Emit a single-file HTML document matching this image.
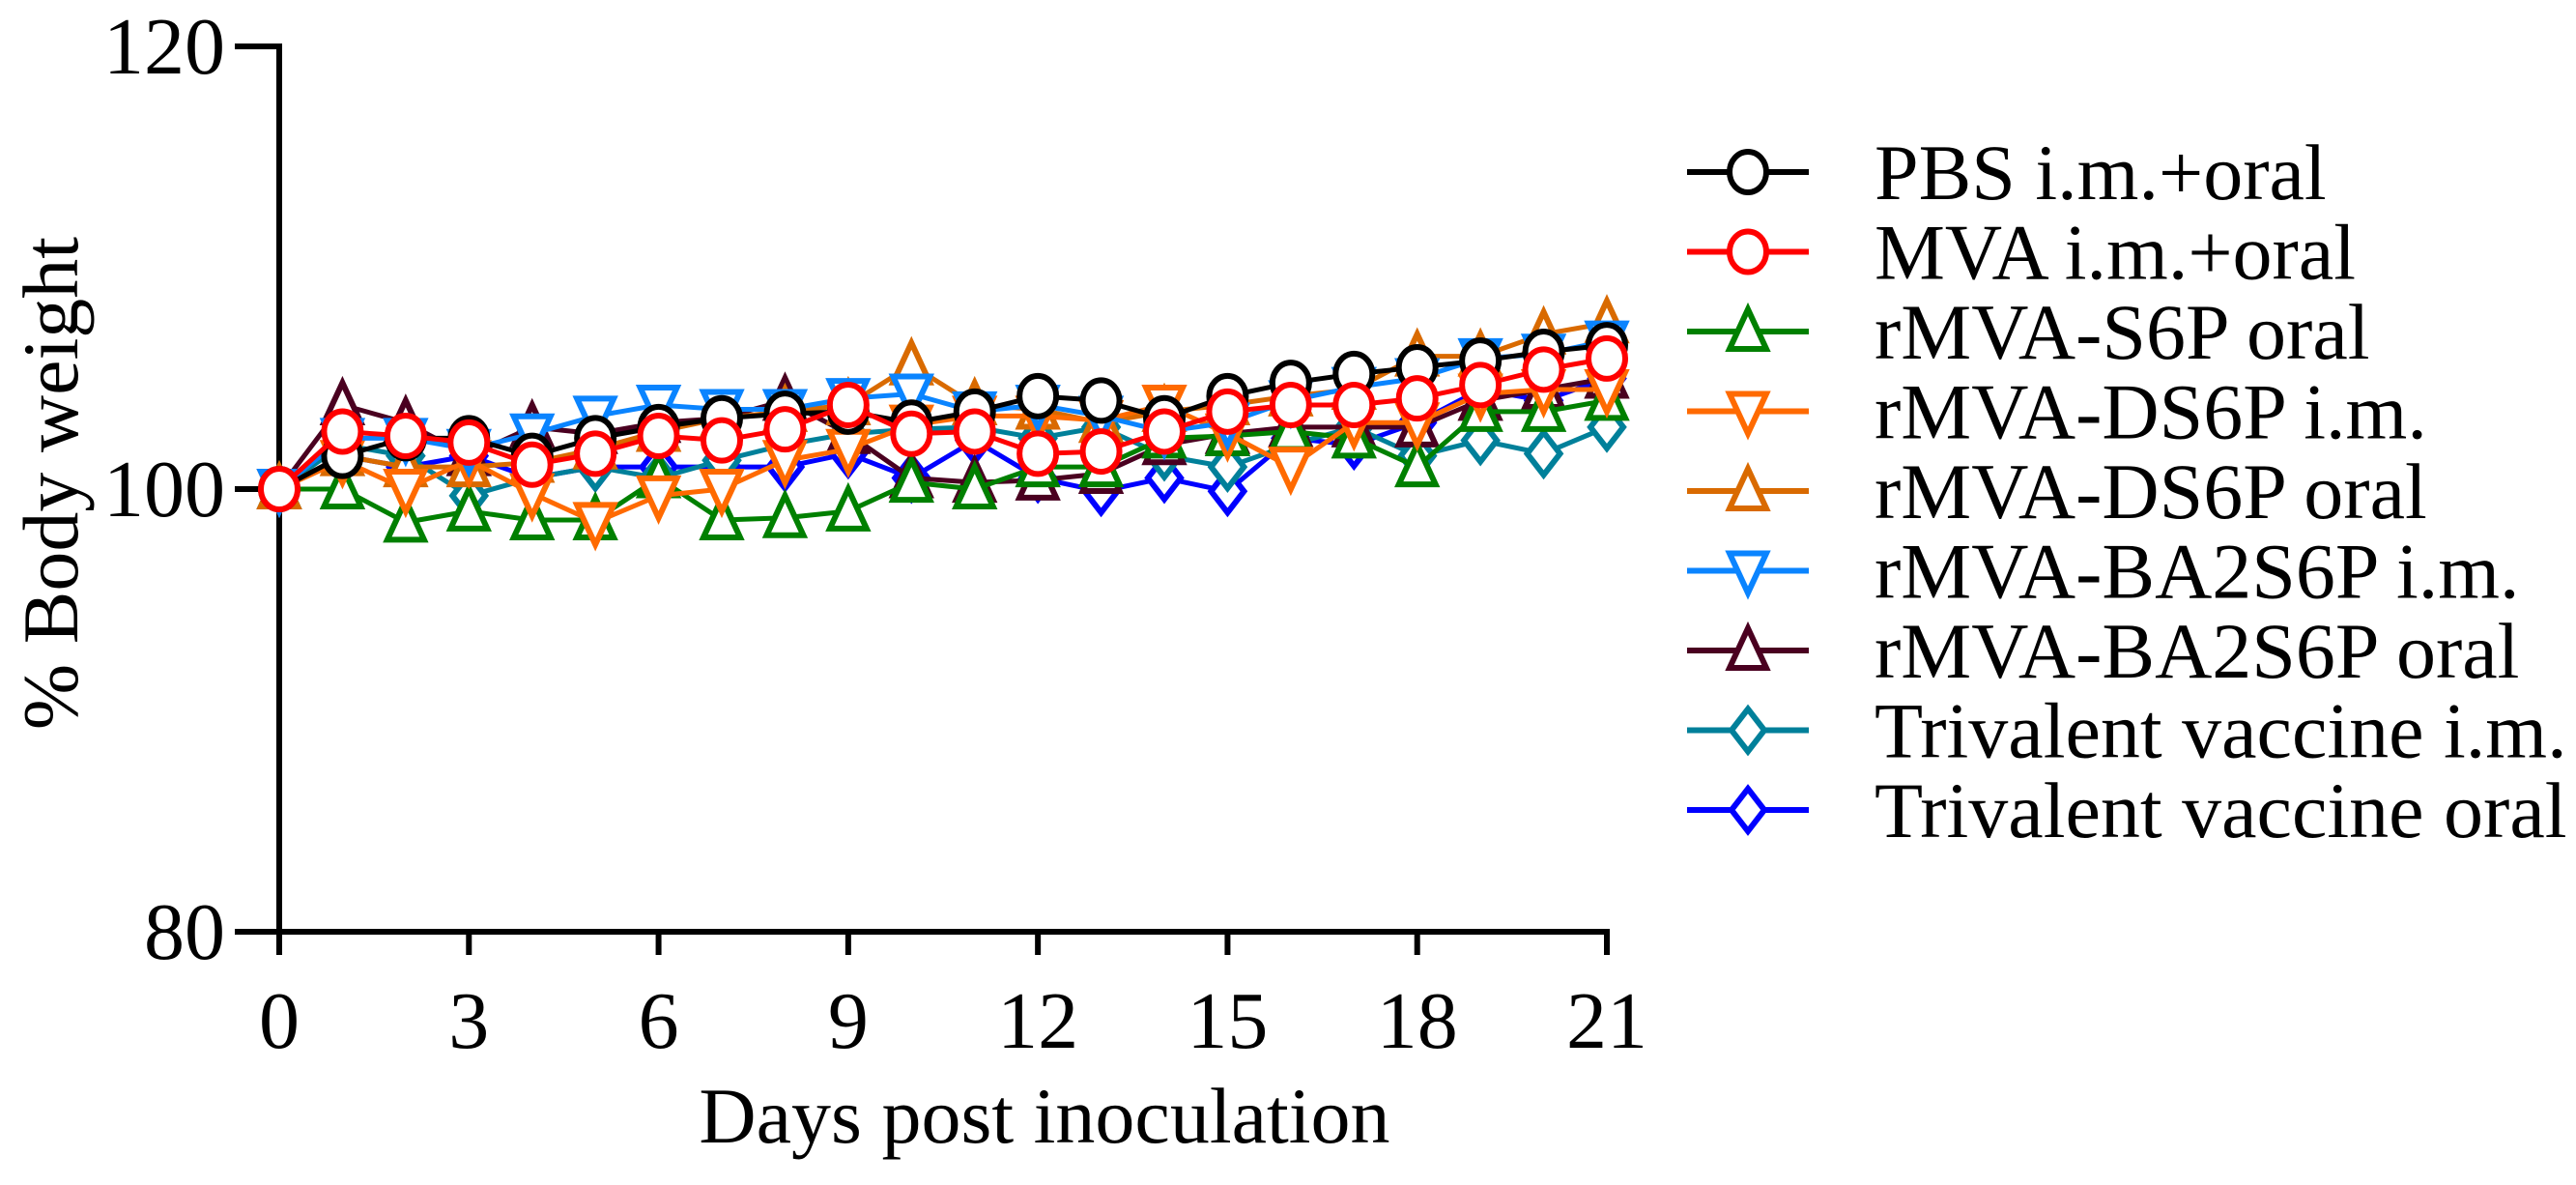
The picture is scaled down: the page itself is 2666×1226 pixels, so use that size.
<!DOCTYPE html>
<html><head><meta charset="utf-8"><style>
html,body{margin:0;padding:0;background:#fff;}
svg{display:block;font-family:"Liberation Serif",serif;}
</style></head><body>
<svg id="chart" width="2666" height="1226" viewBox="0 0 2666 1226" xmlns="http://www.w3.org/2000/svg">
<g id="axes"></g>
<g id="series"></g>
<g id="legend"></g>
</svg>
<script>
const days = [0,1,2,3,4,5,6,7,8,9,10,11,12,13,14,15,16,17,18,19,20,21];
const yTicks = [80,100,120];
const xTicks = [0,3,6,9,12,15,18,21];
const names = ["PBS i.m.+oral","MVA i.m.+oral","rMVA-S6P oral","rMVA-DS6P i.m.","rMVA-DS6P oral","rMVA-BA2S6P i.m.","rMVA-BA2S6P oral","Trivalent vaccine i.m.","Trivalent vaccine oral"];
const colors = ["#000000","#ff0000","#008000","#ff6a00","#d96a00","#0a84ff","#4a0020","#00809a","#0000ff"];
const shapes = ["circle","circle","tri","itri","tri","itri","tri","diamond","diamond"];
const pbs = [100,101.5,102.3,102.3,101.5,102.3,102.8,103.2,103.4,103.5,103,103.5,104.2,104,103.2,104.2,104.8,105.2,105.5,105.8,106.2,106.5];
const mva = [100,102.6,102.4,102.1,101.1,101.6,102.4,102.2,102.7,103.8,102.5,102.6,101.6,101.7,102.6,103.5,103.8,103.8,104.1,104.7,105.4,105.9];
const s6pOral = [100,100,98.5,99,98.6,98.6,100.5,98.6,98.7,99,100.3,100,101,101,102.3,102.4,102.6,102.3,101,103.5,103.5,104];
const ds6pIm = [100,101.3,100,101.3,99.8,98.5,99.7,100,101.3,101.8,102.9,103.3,103.3,103.1,103.8,102.5,101,103,103,104.3,104.5,104.5];
const ds6pOral = [100,101.5,101,101,101.2,101.8,102.6,103.2,103.5,103.8,105.6,103.8,103.6,103,103.5,103.8,104.2,104.5,106,106,107,107.5];
const ba2Im = [100,102.3,102.3,101.8,102.5,103.3,103.8,103.6,103.6,104.1,104.3,103.5,103.8,103.3,102.6,103,104,104.6,105,105.9,106.1,106.7];
const ba2Oral = [100,103.8,103,101.5,102.8,102.5,103,103.2,104,102.5,100.5,100.3,100.4,100.7,102,102.5,102.8,102.8,102.8,104,104.5,105];
const triIm = [100,102,101.5,99.7,100.5,101,100.5,101.3,102,102.5,102.7,102.8,102.3,102.8,101.5,101,102,102.8,101.5,102.2,101.6,102.8];
const triOral = [100,101.5,101,101.5,100.5,101,101,101,101,101.6,100.5,102.2,100.5,99.9,100.5,99.9,102.3,102,103,104.5,104,105];
const seriesData = [pbs,mva,s6pOral,ds6pIm,ds6pOral,ba2Im,ba2Oral,triIm,triOral];

const X0=289, X1=1663, YT=48, YB=964;
const xs = d => X0 + (d-0)/(21-0)*(X1-X0);
const ys = v => YB - (v-80)/(120-80)*(YB-YT);
const NS="http://www.w3.org/2000/svg";
function mk(tag, attrs, parent){const e=document.createElementNS(NS,tag);for(const k in attrs)e.setAttribute(k,attrs[k]);parent.appendChild(e);return e;}
const axes=document.getElementById('axes');
let e=mk('line',{x1:X0,y1:YT-3,x2:X0,y2:YB+3,stroke:'#000','stroke-width':6},axes);


e=mk('line',{x1:X0-3,y1:YB,x2:X1+3,y2:YB,stroke:'#000','stroke-width':6},axes);


yTicks.forEach(v=>{
  const t=mk('line',{x1:X0-46,y1:ys(v),x2:X0,y2:ys(v),stroke:'#000','stroke-width':6},axes);
  
  
  const l=mk('text',{x:X0-56,y:ys(v)+28,'font-size':84,'text-anchor':'end'},axes);
  l.textContent=v;
  
  
});
xTicks.forEach(d=>{
  const t=mk('line',{x1:xs(d),y1:YB,x2:xs(d),y2:YB+24,stroke:'#000','stroke-width':6},axes);
  
  
  const l=mk('text',{x:xs(d),y:YB+120,'font-size':84,'text-anchor':'middle'},axes);
  l.textContent=d;
  
  
});
e=mk('text',{x:1081,y:1182,'font-size':82,'text-anchor':'middle'},axes);
e.textContent='Days post inoculation';


e=mk('text',{x:0,y:0,'font-size':82,'text-anchor':'middle',transform:'translate(80,500) rotate(-90)'},axes);
e.textContent='% Body weight';



function marker(shape,cx,cy,col,parent){
  const r=19;let m;
  if(shape==='circle') m=mk('ellipse',{cx,cy,rx:r,ry:r+2,fill:'#fff',stroke:col,'stroke-width':6},parent);
  else if(shape==='tri') m=mk('polygon',{points:`${cx},${cy-r-4} ${cx-r},${cy+r-1} ${cx+r},${cy+r-1}`,fill:'#fff',stroke:col,'stroke-width':6},parent);
  else if(shape==='itri') m=mk('polygon',{points:`${cx},${cy+r+4} ${cx-r},${cy-r+1} ${cx+r},${cy-r+1}`,fill:'#fff',stroke:col,'stroke-width':6},parent);
  else m=mk('polygon',{points:`${cx},${cy-r-3} ${cx+r-2},${cy} ${cx},${cy+r+3} ${cx-r+2},${cy}`,fill:'#fff',stroke:col,'stroke-width':6},parent);
  return m;
}
const sg=document.getElementById('series');
const order=[8,7,6,2,4,3,5,0,1];
order.forEach(i=>{
  const g=mk('g',{},sg);
  
  
  const pts=seriesData[i].map((v,j)=>xs(days[j])+','+ys(v)).join(' ');
  const pl=mk('polyline',{points:pts,fill:'none',stroke:colors[i],'stroke-width':5,'stroke-linejoin':'round'},g);
  
  
  seriesData[i].forEach((v,j)=>{
    const m=marker(shapes[i],xs(days[j]),ys(v),colors[i],g);
    
    
  });
});
const lg=document.getElementById('legend');
names.forEach((n,i)=>{
  const y=178+i*82.5;
  const g=mk('g',{},lg);
  
  
  mk('line',{x1:1746,y1:y,x2:1872,y2:y,stroke:colors[i],'stroke-width':6},g);
  marker(shapes[i],1809,y,colors[i],g);
  const t=mk('text',{x:1940,y:y+28,'font-size':82},g);
  t.textContent=n;
  
  
});
</script>
</body></html>
